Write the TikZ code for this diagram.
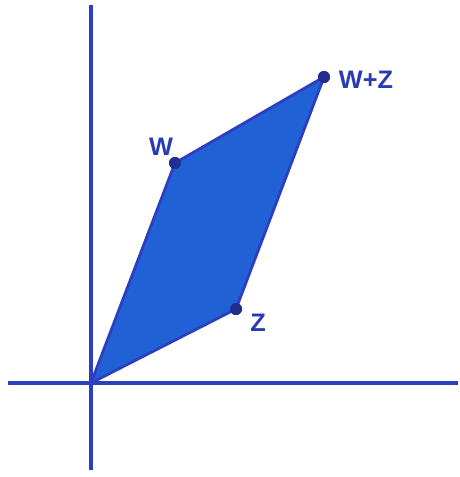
\documentclass[tikz,border=0pt]{standalone}
\usepackage{fontspec}
\setmainfont{Liberation Sans}
\usepackage{tikz}
\usetikzlibrary{positioning,calc}
\definecolor{penblue}{HTML}{2B3FBF}
\definecolor{fillblue}{HTML}{2062D6}
\definecolor{inkblue}{HTML}{2A3AB0}
\tikzset{
  axis/.style={penblue,line width=2pt},
  pgram/.style={fill=fillblue,draw=penblue,line width=1.6pt,line join=round},
  vdot/.style={circle,fill=inkblue!80!black,inner sep=0pt,minimum size=2.4mm},
  vlbl/.style={font=\bfseries\Large,text=inkblue,inner sep=1pt},
}
\begin{document}
\begin{tikzpicture}[x=0.02cm,y=-0.02cm]
  \useasboundingbox (0,0) rectangle (460,477);
  % axes
  \coordinate (ytop) at (91,5);
  \coordinate (ybot) at (91,470);
  \coordinate (xl) at (8,383);
  \coordinate (xr) at (458,383);
  \draw[axis] (ybot)--(ytop);
  \draw[axis] (xl)--(xr);
  % vertices
  \coordinate (o) at (91,383);
  \node[vdot] (w) at (175,163) {};
  \node[vdot] (z) at (236,309) {};
  \node[vdot] (wz) at (324,77) {};
  \draw[pgram] (o) -- (w.center) -- (wz.center) -- (z.center) -- cycle;
  \node[vdot] at (w) {};
  \node[vdot] at (z) {};
  \node[vdot] at (wz) {};
  % labels
  \node[vlbl] (wl) at (161,147) {W};
  \node[vlbl] (zl) at (258,323) {Z};
  \node[vlbl] (wzl) at (366,80) {W+Z};
\end{tikzpicture}
\end{document}
